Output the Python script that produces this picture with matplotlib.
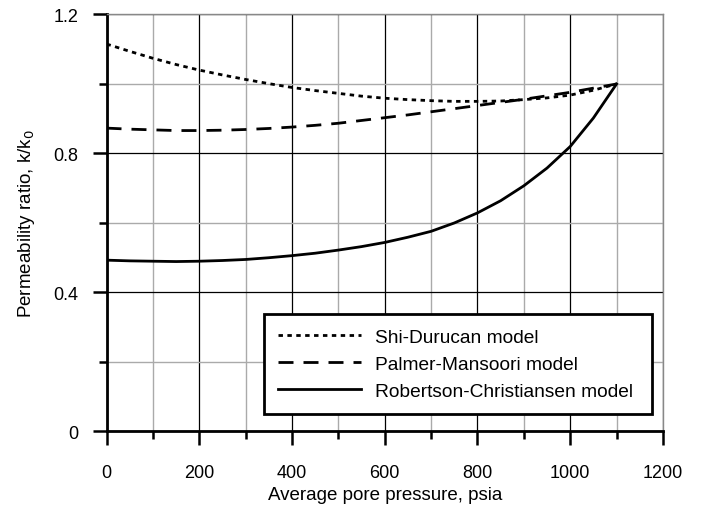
import matplotlib
matplotlib.use("Agg")
import matplotlib.pyplot as plt
from matplotlib.ticker import MultipleLocator, FuncFormatter

plt.rcParams["font.family"] = ["Liberation Sans", "DejaVu Sans"]

# pore pressure, psia
pressure = [0, 50, 100, 150, 200, 250, 300, 350, 400, 450, 500, 550,
            600, 650, 700, 750, 800, 850, 900, 950, 1000, 1050, 1100]

shi_durucan = [1.115, 1.094, 1.074, 1.056, 1.040, 1.026, 1.013, 1.001, 0.990,
               0.981, 0.973, 0.965, 0.959, 0.955, 0.952, 0.950, 0.950, 0.951,
               0.955, 0.960, 0.968, 0.982, 1.000]
palmer_mansoori = [0.873, 0.870, 0.868, 0.866, 0.866, 0.867, 0.869, 0.872,
                   0.876, 0.881, 0.887, 0.895, 0.903, 0.911, 0.920, 0.929,
                   0.938, 0.947, 0.956, 0.966, 0.976, 0.988, 1.000]
robertson_christiansen = [0.493, 0.491, 0.490, 0.489, 0.490, 0.492, 0.495,
                          0.500, 0.506, 0.513, 0.522, 0.532, 0.544, 0.559,
                          0.576, 0.600, 0.629, 0.664, 0.707, 0.758, 0.820,
                          0.902, 1.000]

fig = plt.figure(figsize=(7.03, 5.06), dpi=100)
ax = fig.add_axes([0.1515, 0.1453, 0.7915, 0.8241])

ax.plot(pressure, shi_durucan, color="black", lw=2.0, dashes=(1.6, 1.6),
        label="Shi-Durucan model")
ax.plot(pressure, palmer_mansoori, color="black", lw=2.0, dashes=(5.4, 3.6),
        label="Palmer-Mansoori model")
ax.plot(pressure, robertson_christiansen, color="black", lw=2.0,
        label="Robertson-Christiansen model")

ax.set_xlim(0, 1200)
ax.set_ylim(0, 1.2)
ax.xaxis.set_major_locator(MultipleLocator(200))
ax.xaxis.set_minor_locator(MultipleLocator(100))
ax.yaxis.set_major_locator(MultipleLocator(0.4))
ax.yaxis.set_minor_locator(MultipleLocator(0.2))
ax.yaxis.set_major_formatter(FuncFormatter(lambda v, p: "0" if v == 0 else f"{v:.1f}"))

ax.grid(True, which="major", color="black", lw=0.9)
ax.grid(True, which="minor", color="#aaaaaa", lw=1.0)
ax.set_axisbelow(True)

ax.tick_params(which="major", direction="out", length=10, width=1.8,
               labelsize=13)
ax.tick_params(axis="x", which="major", pad=13.5)
ax.tick_params(axis="y", which="major", pad=10.3)
ax.tick_params(which="minor", direction="out", length=5.5, width=1.8)

for side in ("left", "bottom"):
    ax.spines[side].set_linewidth(2.0)
    ax.spines[side].set_color("black")
for side in ("top", "right"):
    ax.spines[side].set_linewidth(1.0)
    ax.spines[side].set_color("#888888")

ax.set_xlabel("Average pore pressure, psia", fontsize=13.5, labelpad=3.5)
ax.set_ylabel("Permeability ratio, k/k$_0$", fontsize=13.5, labelpad=12)

leg = ax.legend(loc="lower right", bbox_to_anchor=(0.283, 0.041, 0.697, 0.248),
                mode="expand", fontsize=13.8, frameon=True, fancybox=False,
                framealpha=1, edgecolor="black", handlelength=4.33,
                handletextpad=0.72, labelspacing=0.51, borderpad=0.75,
                borderaxespad=0)
leg.get_frame().set_linewidth(2.0)

fig.savefig("out.png", dpi=100)
